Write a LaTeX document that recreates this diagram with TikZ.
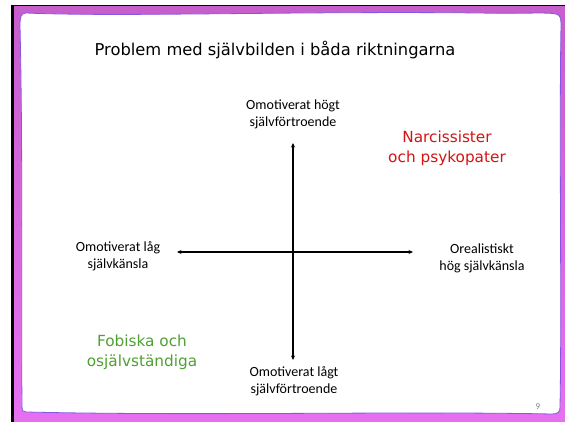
\documentclass[tikz,border=0pt]{standalone}
\usepackage{fontspec}
\setmainfont{Carlito}
\newfontfamily\comicfont{DejaVu Sans}
\usetikzlibrary{arrows.meta}
\definecolor{framepurple}{RGB}{198,94,204}
\definecolor{framepink}{RGB}{230,112,240}
\definecolor{frameline}{RGB}{135,85,230}
\definecolor{narcred}{RGB}{212,20,20}
\definecolor{fobgreen}{RGB}{80,160,50}
\tikzset{
  axislabel/.style={align=center, font=\fontsize{14}{17}\selectfont},
  comictext/.style={align=center, font=\comicfont\fontsize{15.3}{20}\selectfont},
  axisline/.style={line width=1.1pt, {Stealth[length=4.5pt,width=4pt]}-{Stealth[length=4.5pt,width=4pt]}}
}

\begin{document}
\begin{tikzpicture}[x=1pt,y=-1pt]
\useasboundingbox (0,0) rectangle (565,422);
% frame
\fill[white] (0,0) rectangle (565,422);
\fill[black] (11,5) rectangle (565,422);
\shade[top color=framepurple, bottom color=framepink] (14,7) rectangle (565,422);
\filldraw[fill=white, draw=frameline, line width=0.8pt]
  (26,13) .. controls (120,17) and (300,11) .. (480,13)
  .. controls (520,14) and (548,12) .. (556,14)
  .. controls (560,15) and (561,18) .. (561,24)
  .. controls (559,150) and (562,300) .. (560,407)
  .. controls (560,412) and (558,414) .. (552,414)
  .. controls (400,411) and (200,416) .. (26,412)
  .. controls (23,412) and (22,411) .. (22,406)
  .. controls (21,300) and (23,150) .. (20,26)
  .. controls (20,17) and (21,13) .. (26,13) -- cycle;
% title
\node[comictext, font=\comicfont\fontsize{16.3}{20}\selectfont] (title) at (275,50) {Problem med självbilden i båda riktningarna};
% axis labels
\node[axislabel] (hi) at (293,114) {Omotiverat högt\\självförtroende};
\node[axislabel] (lo) at (294,381) {Omotiverat lågt\\självförtroende};
\node[axislabel] (lowself) at (118,256) {Omotiverat låg\\självkänsla};
\node[axislabel] (highself) at (482,258) {Orealistiskt\\hög självkänsla};
% groups
\node[comictext, text=narcred] (narc) at (447,148) {Narcissister\\och psykopater};
\node[comictext, text=fobgreen] (fob) at (142,352) {Fobiska och\\osjälvständiga};
% axes
\coordinate (vtop) at (293,143);
\coordinate (vbot) at (293,360);
\coordinate (hleft) at (177,252);
\coordinate (hright) at (413,252);
\draw[axisline] (vtop) -- (vbot);
\draw[axisline] (hleft) -- (hright);
% page number
\node[font=\fontsize{9}{9}\selectfont, text=gray] (pagenr) at (538,407) {9};
\end{tikzpicture}
\end{document}
